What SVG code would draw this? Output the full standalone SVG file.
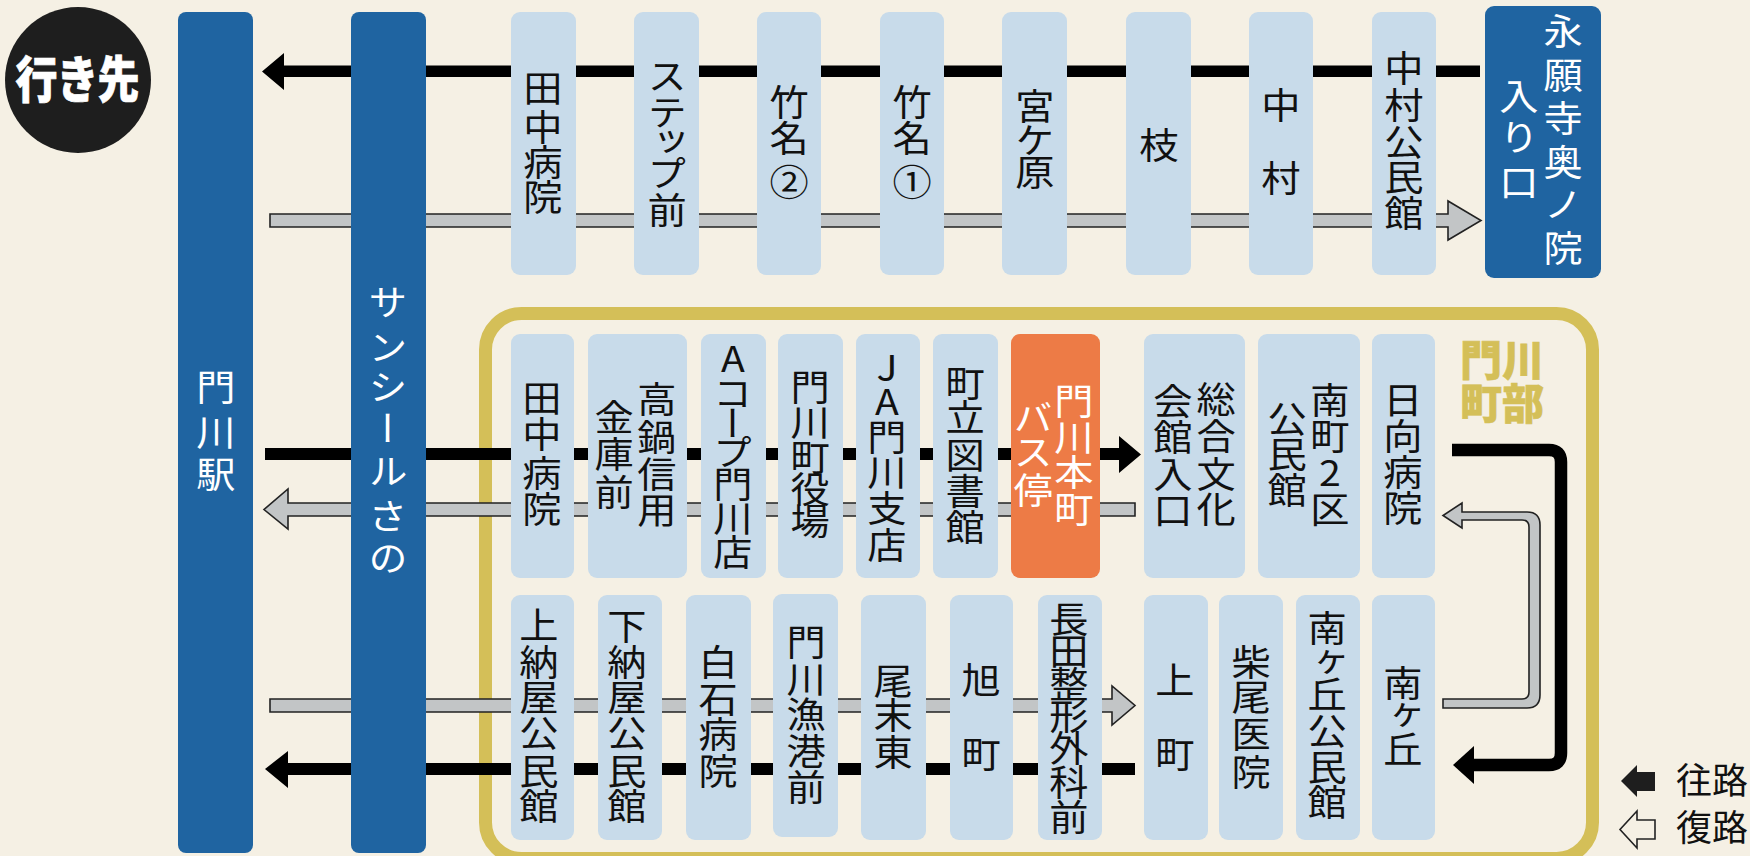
<svg xmlns="http://www.w3.org/2000/svg" width="1750" height="856" viewBox="0 0 1750 856">
<style>
text{font-family:"Noto Sans CJK JP","Noto Sans",sans-serif}
.v{writing-mode:vertical-rl;text-orientation:upright;fill:#111;font-size:36px;transform-box:fill-box;transform-origin:center;transform:scaleX(1.090)}
.w{fill:#fff}
.st{fill:#c8dbea}
.hub{fill:#1f64a1}
.blk{fill:#000}
.gry{fill:#c2c5c6;stroke:#222;stroke-width:1.6}
.b{font-weight:900}
.g{fill:#d4bf58;stroke:#d4bf58;stroke-width:.6;font-size:42px}
</style>
<rect width="1750" height="856" fill="#f5f0e4"/>
<rect id="area" x="485.500" y="313.500" width="1107" height="545" rx="36" fill="none" stroke="#d4bf58" stroke-width="13"/>
<g id="connectors">
<path class="blk" d="M1480 65.500V77H284V90L262 71.500 284 53V65.500Z"/>
<path class="gry" d="M270 214H1448V201L1481 220.500 1448 240V227H270Z"/>
<path class="blk" d="M265 448H1119V436L1141 454.500 1119 473V460H265Z"/>
<path class="gry" d="M1135 503H288V489L264 509.500 288 529V516H1135Z"/>
<path class="gry" d="M270 699H1112V686L1135 705.500 1112 725V712H270Z"/>
<path class="blk" d="M1135 763H288V751L265 769 288 788V775H1135Z"/>
<path d="M1452 450H1549Q1561 450 1561 462V753Q1561 765 1549 765H1474" fill="none" stroke="#000" stroke-width="12.500"/>
<path class="blk" d="M1474 746V784L1453 765Z"/>
<path class="gry" d="M1443 699H1522Q1529 699 1529 692V527Q1529 520 1522 520H1462V528L1443 515.500 1462 503V512H1527Q1540 512 1540 525V695Q1540 708 1527 708H1443Z"/>
</g>
<g id="n-circle"><ellipse cx="78" cy="80" rx="73" ry="73" fill="#1e1e1e"/><text transform="translate(77 98) scale(1 1.180)" text-anchor="middle" class="w" font-weight="900" font-size="42" letter-spacing="-1" stroke="#fff" stroke-width=".6">行き先</text></g>
<g id="n-mk"><rect class="hub" x="178" y="12" width="75" height="841" rx="8"/><text class="v w" x="216" y="369 414 456">門川駅</text></g>
<g id="n-sun"><rect class="hub" x="351" y="12" width="75" height="841" rx="8"/><text class="v w" x="388" y="284 329 369 410 453 498 540">サンシールさの</text></g>
<g id="n-t1"><rect class="st" x="511" y="12" width="65" height="263" rx="9"/><text class="v" x="543" y="70 109 144 179">田中病院</text></g>
<g id="n-t2"><rect class="st" x="634" y="12" width="65" height="263" rx="9"/><text class="v" x="667" y="58 94 123 155 192">ステップ前</text></g>
<g id="n-t3"><rect class="st" x="757" y="12" width="64" height="263" rx="9"/><text class="v" x="789" y="84 120 164">竹名②</text></g>
<g id="n-t4"><rect class="st" x="880" y="12" width="64" height="263" rx="9"/><text class="v" x="912" y="84 120 164">竹名①</text></g>
<g id="n-t5"><rect class="st" x="1002" y="12" width="65" height="263" rx="9"/><text class="v" x="1035" y="88 122 154">宮ケ原</text></g>
<g id="n-t6"><rect class="st" x="1126" y="12" width="65" height="263" rx="9"/><text class="v" x="1159" y="127">枝</text></g>
<g id="n-t7"><rect class="st" x="1249" y="12" width="64" height="263" rx="9"/><text class="v" x="1281" y="87 160">中村</text></g>
<g id="n-t8"><rect class="st" x="1372" y="12" width="64" height="263" rx="9"/><text class="v" x="1404" y="50 87 124 159 195">中村公民館</text></g>
<g id="n-end"><rect class="hub" x="1485" y="6" width="116" height="272" rx="9"/><text class="v w" x="1563" y="13 57 100 144 186 230">永願寺奥ノ院</text><text class="v w" x="1519" y="78 119 164">入り口</text></g>
<g id="n-m1"><rect class="st" x="511" y="334" width="63" height="244" rx="9"/><text class="v" x="542" y="380 416 455 491">田中病院</text></g>
<g id="n-m2"><rect class="st" x="588" y="334" width="99" height="244" rx="9"/><text class="v" x="657" y="381 419 456 492">高鍋信用</text><text class="v" x="614" y="399 436 474">金庫前</text></g>
<g id="n-m3"><rect class="st" x="701" y="334" width="65" height="244" rx="9"/><text class="v" x="733" y="340 375 405 434 466 500 534">Aコープ門川店</text></g>
<g id="n-m4"><rect class="st" x="778" y="334" width="65" height="244" rx="9"/><text class="v" x="810" y="369 404 439 471 503">門川町役場</text></g>
<g id="n-m5"><rect class="st" x="856" y="334" width="64" height="244" rx="9"/><text class="v" x="887" y="349 383 419 454 490 527">JA門川支店</text></g>
<g id="n-m6"><rect class="st" x="933" y="334" width="65" height="244" rx="9"/><text class="v" x="965" y="365 399 437 473 509">町立図書館</text></g>
<g id="n-m7"><rect x="1011" y="334" width="89" height="244" rx="9" fill="#ed7b46"/><text class="v w" x="1074" y="383 419 454 491">門川本町</text><text class="v w" x="1033" y="399 434 472">バス停</text></g>
<g id="n-m8"><rect class="st" x="1144" y="334" width="101" height="244" rx="9"/><text class="v" x="1216" y="381 418 456 491">総合文化</text><text class="v" x="1173" y="383 419 456 492">会館入口</text></g>
<g id="n-m9"><rect class="st" x="1258" y="334" width="102" height="244" rx="9"/><text class="v" x="1330" y="382 418 454 491">南町2区</text><text class="v" x="1287" y="401 436 472">公民館</text></g>
<g id="n-m10"><rect class="st" x="1372" y="334" width="63" height="244" rx="9"/><text class="v" x="1403" y="382 418 454 490">日向病院</text></g>
<g id="n-l1"><rect class="st" x="511" y="595" width="63" height="245" rx="9"/><text class="v" x="539" y="607 644 679 715 753 788">上納屋公民館</text></g>
<g id="n-l2"><rect class="st" x="598" y="595" width="64" height="245" rx="9"/><text class="v" x="627" y="608 644 679 715 753 788">下納屋公民館</text></g>
<g id="n-l3"><rect class="st" x="686" y="595" width="65" height="245" rx="9"/><text class="v" x="718" y="644 681 716 753">白石病院</text></g>
<g id="n-l4"><rect class="st" x="773" y="594" width="65" height="243" rx="9"/><text class="v" x="806" y="624 661 696 733 769">門川漁港前</text></g>
<g id="n-l5"><rect class="st" x="861" y="595" width="65" height="245" rx="9"/><text class="v" x="893" y="663 697 734">尾末東</text></g>
<g id="n-l6"><rect class="st" x="950" y="595" width="63" height="245" rx="9"/><text class="v" x="981" y="662 736">旭町</text></g>
<g id="n-l7"><rect class="st" x="1038" y="595" width="64" height="245" rx="9"/><text class="v" x="1069" y="601 633 666 698 730 764 799">長田整形外科前</text></g>
<g id="n-l8"><rect class="st" x="1144" y="595" width="64" height="245" rx="9"/><text class="v" x="1175" y="662 736">上町</text></g>
<g id="n-l9"><rect class="st" x="1219" y="595" width="64" height="245" rx="9"/><text class="v" x="1251" y="644 679 716 754">柴尾医院</text></g>
<g id="n-l10"><rect class="st" x="1296" y="595" width="64" height="245" rx="9"/><text class="v" x="1327" y="610 644 676 713 749 784">南ヶ丘公民館</text></g>
<g id="n-l11"><rect class="st" x="1372" y="595" width="63" height="245" rx="9"/><text class="v" x="1403" y="665 697 731">南ヶ丘</text></g>
<g id="n-area-label"><text x="1502" y="376" text-anchor="middle" class="b g">門川</text><text x="1502" y="419" text-anchor="middle" class="b g">町部</text></g>
<g id="legend">
<path d="M1655 772H1637V765L1621 781 1637 797V791H1655Z" fill="#1e1e1e"/>
<path d="M1655 820H1637V811L1620 829.500 1637 848V839H1655Z" fill="none" stroke="#222" stroke-width="1.600"/>
<text x="1676" y="794" font-size="36" fill="#111">往路</text>
<text x="1676" y="841" font-size="36" fill="#111">復路</text>
</g>
</svg>
